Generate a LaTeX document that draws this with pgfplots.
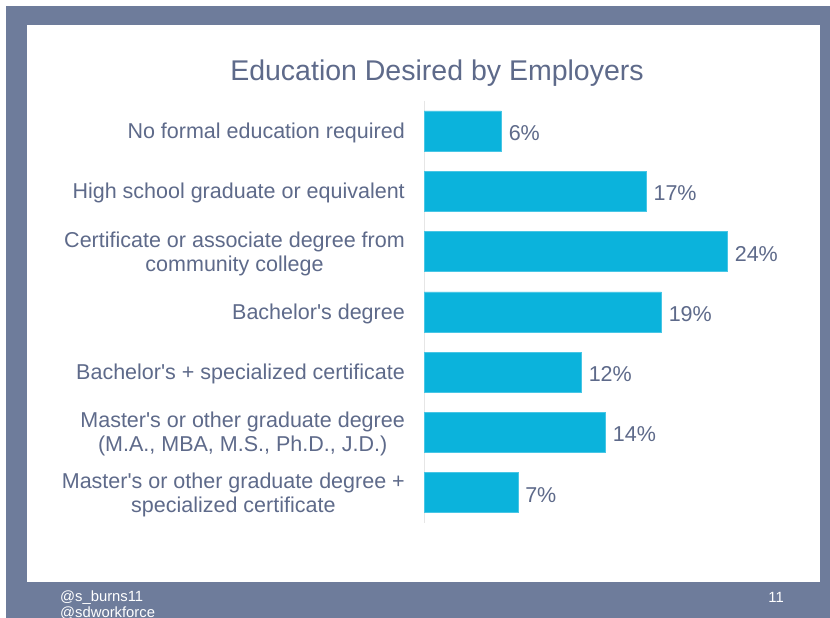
\documentclass[border=0pt]{standalone}
\usepackage{pgfplots}
\pgfplotsset{compat=1.18}
\usepackage{pgfplotstable}
\usepackage{fontspec}
\setmainfont{Liberation Sans}
\definecolor{frame}{HTML}{6E7C9B}
\definecolor{txt}{HTML}{5E6A8A}
\definecolor{bar}{HTML}{0BB3DC}
\definecolor{axl}{HTML}{E6E6E6}
\newcommand{\ap}{\textquotesingle}
\pgfplotstableread{
c v lab
0 6.1 6
1 17.5 17
2 23.9 24
3 18.7 19
4 12.4 12
5 14.3 14
6 7.4 7
}\datatab
\begin{document}
\begin{tikzpicture}
\useasboundingbox (0bp,0bp) rectangle (830bp,618bp);
\clip (0bp,0bp) rectangle (830bp,618bp);
\fill[white] (0bp,0bp) rectangle (830bp,618bp);
\fill[frame] (6bp,0bp) rectangle (830bp,612bp);
\fill[white] (27bp,36bp) rectangle (820bp,593bp);
\node[anchor=base, text=txt, font=\fontsize{28.5bp}{34bp}\selectfont, inner sep=0pt] at (437bp,537bp) {Education Desired by Employers};
\node[anchor=base west, text=white, font=\fontsize{14.8bp}{16bp}\selectfont, inner sep=0pt] at (60bp,17bp) {@s\_burns11};
\node[anchor=base west, text=white, font=\fontsize{14.8bp}{16bp}\selectfont, inner sep=0pt] at (60bp,1bp) {@sdworkforce};
\node[anchor=base east, text=white, font=\fontsize{14.8bp}{16bp}\selectfont, inner sep=0pt] at (784bp,16bp) {11};
\begin{axis}[
  at={(424bp,487bp)}, anchor=origin,
  scale only axis, width=381bp, height=422bp,
  xmin=0, xmax=30, ymin=-0.5, ymax=6.5, y dir=reverse,
  xbar, bar width=40bp,
  hide x axis,
  axis y line=left,
  y axis line style={draw=axl, line width=1bp, -},
  major tick length=0pt,
  ytick={0,...,6},
  yticklabels={No formal education required,
    High school graduate or equivalent,
    {Certificate or associate degree from\\community college},
    Bachelor\ap s degree,
    Bachelor\ap s + specialized certificate,
    {Master\ap s or other graduate degree\\(M.A., MBA, M.S., Ph.D., J.D.)},
    {Master\ap s or other graduate degree +\\specialized certificate}},
  yticklabel style={anchor=east, inner sep=0pt, xshift=-19bp, yshift=-2bp, align=center, text=txt,
    font=\fontsize{21.5bp}{24bp}\selectfont},
  point meta=explicit,
  nodes near coords={\pgfmathprintnumber[assume math mode=true]{\pgfplotspointmeta}\%},
  nodes near coords style={anchor=west, inner sep=0pt, xshift=7bp, yshift=-2bp, text=txt,
    font=\fontsize{21.5bp}{24bp}\selectfont},
  clip=false,
]
\addplot[fill=bar, draw=bar!75!white, line width=0.6bp] table[x=v, y=c, meta=lab] {\datatab};
\end{axis}
\end{tikzpicture}
\end{document}
